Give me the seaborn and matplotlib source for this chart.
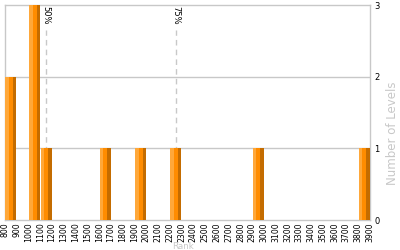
import numpy as np
import matplotlib
matplotlib.use("Agg")
import matplotlib.pyplot as plt
import seaborn as sns

# Data
bin_starts = [800, 1000, 1100, 1600, 1900, 2200, 2900, 3800]
level_counts = [2, 3, 1, 1, 1, 1, 1, 1]
bin_edges = list(range(800, 4000, 100))
tick_labels = [str(v) for v in bin_edges]
pct_names = ["50%", "75%"]
pct_values = [1150, 2250]

sns.set_style("white")
plt.rcParams['font.family'] = ['DejaVu Sans']

fig = plt.figure(figsize=(4, 2.5), dpi=100)
ax = fig.add_axes([5/400, 1-220/250, 365/400, 215/250])

grid_c = "#c8c8c8"
light_c = "#ffa83a"
mid_c = "#ff8c00"
dark_c = "#c46c00"

# base bars (light) via seaborn histogram
sns.histplot(x=bin_starts, weights=level_counts, bins=bin_edges, shrink=0.94,
             color=light_c, alpha=1, edgecolor="none", linewidth=0, ax=ax, zorder=3)
# shading stripes
starts = np.array(bin_starts, dtype=float)
ax.bar(starts + 3 + 31, level_counts, width=63, align="edge", color=mid_c, linewidth=0, zorder=4)
ax.bar(starts + 3 + 66, level_counts, width=28, align="edge", color=dark_c, linewidth=0, zorder=5)

ax.set_xlim(800, 3900)
ax.set_ylim(0, 3)

# grid
for yv in [1, 2]:
    ax.axhline(yv, color=grid_c, lw=1, zorder=1)

for s in ax.spines.values():
    s.set_color(grid_c)
    s.set_linewidth(1)

# percentile lines
for name, v in zip(pct_names, pct_values):
    ax.plot([v, v], [0, 2.65], color=grid_c, lw=1, ls=(0, (4, 3)), zorder=2)
    ax.text(v, 2.99, name, rotation=-90, ha="center", va="top", fontsize=6, color="black", zorder=6)

ax.yaxis.tick_right()
ax.set_yticks([0, 1, 2, 3])
ax.set_yticklabels(["0", "1", "2", "3"])
ax.set_xticks(bin_edges)
ax.set_xticklabels(tick_labels, rotation=90, va="top", ha="center")
ax.tick_params(axis="x", labelsize=5.6, length=0, pad=1.5, colors="black")
ax.tick_params(axis="y", labelsize=6, length=0, pad=3, colors="black")
ax.set_xlabel("")
ax.set_ylabel("")

fig.text(392/400, 1-133/250, "Number of Levels", rotation=90, ha="center", va="center",
         fontsize=8.5, color=grid_c)
fig.text(183/400, 1-249.3/250, "Rank", ha="center", va="baseline", fontsize=6.3, color=grid_c)

fig.savefig("out.png", dpi=100)
